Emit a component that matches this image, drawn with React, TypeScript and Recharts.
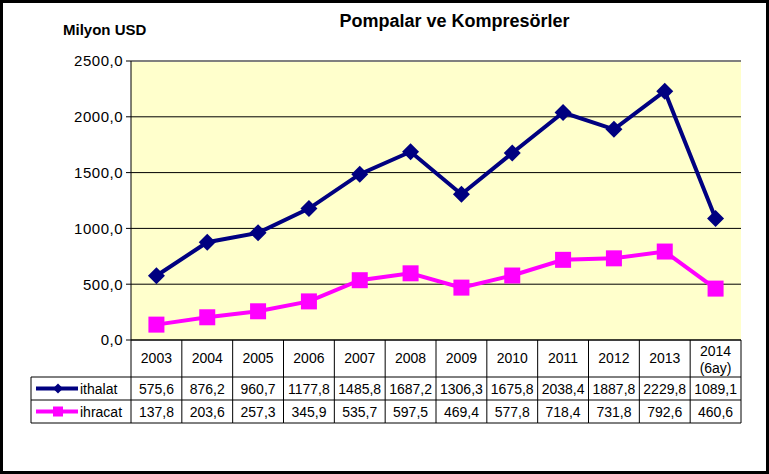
import React from 'react';
import { ComposedChart, Line, XAxis, YAxis, CartesianGrid, ReferenceLine } from 'recharts';

const years = ['2003', '2004', '2005', '2006', '2007', '2008', '2009', '2010', '2011', '2012', '2013', '2014'];
const yearNotes = ['', '', '', '', '', '', '', '', '', '', '', '(6ay)'];
const ithalat = [575.6, 876.2, 960.7, 1177.8, 1485.8, 1687.2, 1306.3, 1675.8, 2038.4, 1887.8, 2229.8, 1089.1];
const ihracat = [137.8, 203.6, 257.3, 345.9, 535.7, 597.5, 469.4, 577.8, 718.4, 731.8, 792.6, 460.6];
const yTicks = [0, 500, 1000, 1500, 2000, 2500];

const data = years.map((year, i) => ({ year, note: yearNotes[i], ithalat: ithalat[i], ihracat: ihracat[i] }));

const FONT = '"Liberation Sans", Arial, sans-serif';
const NAVY = '#000080';
const PINK = '#FF00FF';
const fmt = (v: number) => v.toFixed(1).replace('.', ',');

const Diamond = (props: any) => {
  const { cx, cy, index } = props;
  if (cx == null || cy == null) return null;
  const r = 8.5;
  return <polygon key={'d' + index} points={`${cx},${cy - r} ${cx + r},${cy} ${cx},${cy + r} ${cx - r},${cy}`} fill={NAVY} />;
};

const Square = (props: any) => {
  const { cx, cy, index } = props;
  if (cx == null || cy == null) return null;
  return <rect key={'s' + index} x={cx - 8} y={cy - 8} width={16} height={16} fill={PINK} />;
};

const ROW1 = 37;
const ROW = 23;

const TableTick = (props: any) => {
  const { x, y, payload, index, width, visibleTicksCount } = props;
  const cw = width && visibleTicksCount ? width / visibleTicksCount : 50.8;
  const left = x - cw / 2;
  const right = x + cw / 2;
  const top = y;
  const r1 = top + ROW1;
  const r2 = r1 + ROW;
  const r3 = r2 + ROW;
  const d = data[index];
  const txt = { fontFamily: FONT, fontSize: 14, fill: '#000', textAnchor: 'middle' as const };
  return (
    <g>
      <line x1={right} y1={top} x2={right} y2={r3} stroke="#000" />
      {index === 0 && <line x1={left} y1={top} x2={left} y2={r3} stroke="#000" />}
      <line x1={left} y1={r1} x2={right} y2={r1} stroke="#000" />
      <line x1={left} y1={r2} x2={right} y2={r2} stroke="#000" />
      <line x1={left} y1={r3} x2={right} y2={r3} stroke="#000" />
      {d.note ? (
        <>
          <text x={x} y={top + 16} {...txt}>{d.year}</text>
          <text x={x} y={top + 33} {...txt}>{d.note}</text>
        </>
      ) : (
        <text x={x} y={top + 23} {...txt}>{d.year}</text>
      )}
      <text x={x} y={r1 + 16.5} {...txt}>{fmt(d.ithalat)}</text>
      <text x={x} y={r2 + 16.5} {...txt}>{fmt(d.ihracat)}</text>
      {index === 0 && (
        <g>
          <line x1={31} y1={r1} x2={left} y2={r1} stroke="#000" />
          <line x1={31} y1={r2} x2={left} y2={r2} stroke="#000" />
          <line x1={31} y1={r3} x2={left} y2={r3} stroke="#000" />
          <line x1={31} y1={r1} x2={31} y2={r3} stroke="#000" />
          <line x1={36} y1={r1 + 11.5} x2={78} y2={r1 + 11.5} stroke={NAVY} strokeWidth={4} />
          <polygon points={`58,${r1 + 6.5} 63,${r1 + 11.5} 58,${r1 + 16.5} 53,${r1 + 11.5}`} fill={NAVY} />
          <text x={80} y={r1 + 16.5} fontFamily={FONT} fontSize={14} fill="#000">ithalat</text>
          <line x1={36} y1={r2 + 11.5} x2={78} y2={r2 + 11.5} stroke={PINK} strokeWidth={4} />
          <rect x={53} y={r2 + 6.5} width={10} height={10} fill={PINK} />
          <text x={80} y={r2 + 16.5} fontFamily={FONT} fontSize={14} fill="#000">ihracat</text>
        </g>
      )}
    </g>
  );
};

export default function App() {
  return (
    <div style={{ position: 'absolute', left: 0, top: 0, width: 769, height: 474, background: '#fff' }}>
      <ComposedChart width={769} height={474} data={data} margin={{ top: 61, right: 28, left: 0, bottom: 0 }}>
        <CartesianGrid yAxisId="l" vertical={false} stroke="#000" fill="#FFFFCC" fillOpacity={1} />
        <XAxis
          dataKey="year"
          scale="band"
          height={134}
          axisLine={{ stroke: '#000' }}
          tickLine={false}
          tickSize={0}
          tickMargin={0}
          interval={0}
          tick={<TableTick />}
        />
        <YAxis
          yAxisId="l"
          width={131}
          domain={[0, 2500]}
          ticks={yTicks}
          tickFormatter={fmt}
          axisLine={{ stroke: '#000' }}
          tickLine={{ stroke: '#000' }}
          tickSize={5}
          tickMargin={3}
          tick={{ fontFamily: FONT, fontSize: 15, fill: '#000', letterSpacing: 0.5 }}
        />
        <YAxis yAxisId="r" orientation="right" width={0} tick={false} axisLine={{ stroke: '#808080', strokeWidth: 2 }} />
        <ReferenceLine yAxisId="l" y={2500} stroke="#808080" strokeWidth={2} />
        <Line
          yAxisId="l"
          dataKey="ithalat"
          stroke={NAVY}
          strokeWidth={4}
          dot={Diamond}
          activeDot={false}
          isAnimationActive={false}
        />
        <Line
          yAxisId="l"
          dataKey="ihracat"
          stroke={PINK}
          strokeWidth={4}
          dot={Square}
          activeDot={false}
          isAnimationActive={false}
        />
      </ComposedChart>
      <div style={{ position: 'absolute', left: 0, top: 11, width: 769, paddingLeft: 140, boxSizing: 'border-box', textAlign: 'center', fontFamily: FONT, fontWeight: 'bold', fontSize: 18 }}>
        Pompalar ve Kompresörler
      </div>
      <div style={{ position: 'absolute', left: 63, top: 21, fontFamily: FONT, fontWeight: 'bold', fontSize: 15 }}>
        Milyon USD
      </div>
      <div style={{ position: 'absolute', left: 0, top: 0, width: 769, height: 474, boxSizing: 'border-box', border: '3px solid #000', pointerEvents: 'none' }} />
    </div>
  );
}
